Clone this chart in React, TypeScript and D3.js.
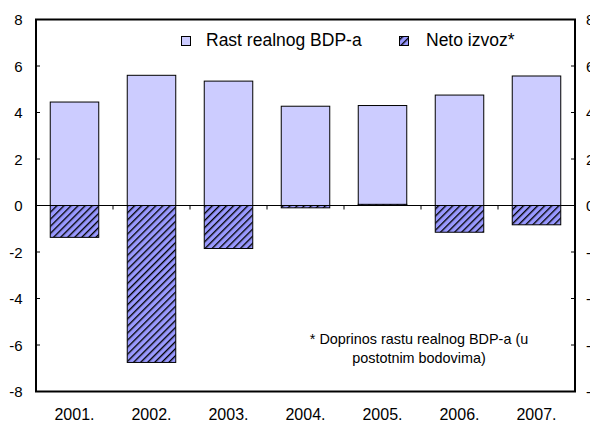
import React from "react";
import * as d3 from "d3";

const categories = ["2001.", "2002.", "2003.", "2004.", "2005.", "2006.", "2007."];
const gdpGrowth = [4.45, 5.6, 5.35, 4.27, 4.3, 4.75, 5.57];
const netExports = [-1.37, -6.75, -1.85, -0.1, 0.05, -1.15, -0.83];
const yTicks = [-8, -6, -4, -2, 0, 2, 4, 6, 8];
const legendLabels = ["Rast realnog BDP-a", "Neto izvoz*"];
const footnote = ["* Doprinos rastu realnog BDP-a (u", "postotnim bodovima)"];

const W = 590;
const H = 423;
const left = 36;
const right = 575;
const top = 19.5;
const bottom = 391.5;
const font = "'Liberation Sans', Arial, sans-serif";

export default function App() {
  const x = d3.scaleBand<string>().domain(categories).range([left, right]).paddingInner(0.37).paddingOuter(0.185);
  const xc = d3.scaleBand<string>().domain(categories).range([left, right]);
  const y = d3.scaleLinear().domain([-8, 8]).range([bottom, top]);
  const bw = x.bandwidth();

  return (
    <svg width={W} height={H} style={{ position: "absolute", left: 0, top: 0, background: "#fff" }} fontFamily={font}>
      <defs>
        <pattern id="hatch" patternUnits="userSpaceOnUse" width="5" height="5" patternTransform="rotate(45)">
          <rect width="5" height="5" fill="#9999ff" />
          <line x1="0" y1="-1" x2="0" y2="6" stroke="#000" strokeWidth="2.7" />
        </pattern>
      </defs>
      <rect x={0} y={0} width={W} height={H} fill="#fff" />
      {/* GDP bars */}
      {categories.map((c, i) => {
        const v = gdpGrowth[i];
        return (
          <rect key={"g" + c} x={x(c)} y={y(Math.max(0, v))} width={bw} height={Math.abs(y(v) - y(0))}
            fill="#ccccff" stroke="#000" strokeWidth={1} />
        );
      })}
      {/* Net export bars */}
      {categories.map((c, i) => {
        const v = netExports[i];
        return (
          <rect key={"n" + c} x={x(c)} y={y(Math.max(0, v))} width={bw} height={Math.max(0.5, Math.abs(y(v) - y(0)))}
            fill="url(#hatch)" stroke="#000" strokeWidth={1} />
        );
      })}
      {/* zero line */}
      <line x1={left} x2={right} y1={y(0)} y2={y(0)} stroke="#000" strokeWidth={1} />
      {/* category ticks at zero line */}
      {categories.slice(1).map((c) => (
        <line key={"t" + c} x1={xc(c)} x2={xc(c)} y1={y(0)} y2={y(0) + 4} stroke="#000" strokeWidth={1} />
      ))}
      {/* frame */}
      <rect x={left} y={top} width={right - left} height={bottom - top} fill="none" stroke="#000" strokeWidth={2} />
      {/* y ticks */}
      {yTicks.map((t) => (
        <g key={"y" + t}>
          <line x1={left} x2={left + 4} y1={y(t)} y2={y(t)} stroke="#000" strokeWidth={1} />
          <line x1={right - 4} x2={right} y1={y(t)} y2={y(t)} stroke="#000" strokeWidth={1} />
          <text x={22.5} y={y(t) + 5.5} textAnchor="end" fontSize={15} fill="#000">{t}</text>
          <text x={586} y={y(t) + 5.5} textAnchor="start" fontSize={15} fill="#000">{t}</text>
        </g>
      ))}
      {/* x labels */}
      {categories.map((c) => (
        <text key={"x" + c} x={(xc(c) as number) + xc.bandwidth() / 2} y={420} textAnchor="middle" fontSize={16} fill="#000">{c}</text>
      ))}
      {/* legend */}
      <rect x={399.5} y={36.5} width={9} height={9} fill="url(#hatch)" stroke="#000" strokeWidth={1} />
      <rect x={181.5} y={36.5} width={9} height={9} fill="#ccccff" stroke="#000" strokeWidth={1} />
      <text x={206} y={46.3} fontSize={17.5} fill="#000">{legendLabels[0]}</text>
      <text x={426} y={46.3} fontSize={17.5} fill="#000">{legendLabels[1]}</text>
      {/* footnote */}
      {footnote.map((l, i) => (
        <text key={"f" + i} x={419} y={344 + i * 18.5} textAnchor="middle" fontSize={14.4} fill="#000">{l}</text>
      ))}
    </svg>
  );
}
